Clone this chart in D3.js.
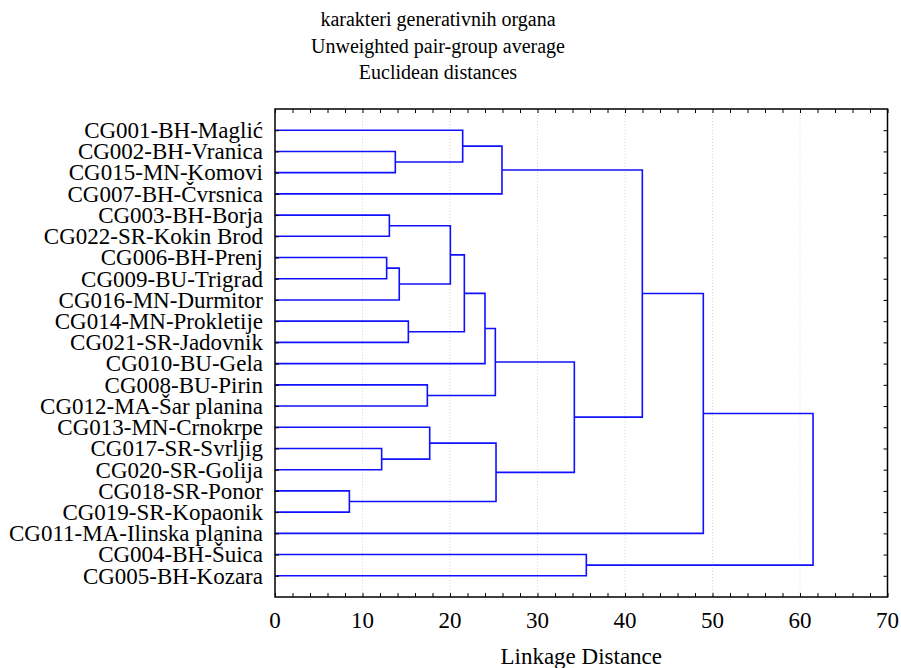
<!DOCTYPE html>
<html>
<head>
<meta charset="utf-8">
<script src="https://cdn.jsdelivr.net/npm/d3@7"></script>
<style>
  body { margin: 0; background: #fff; }
  text { font-family: "Liberation Serif", "Times New Roman", serif; fill: #000; }
</style>
</head>
<body>
<svg width="901" height="668"></svg>
<script>
// leaf labels, top to bottom
const leaves = [
  "CG001-BH-Maglić", "CG002-BH-Vranica", "CG015-MN-Komovi", "CG007-BH-Čvrsnica",
  "CG003-BH-Borja", "CG022-SR-Kokin Brod", "CG006-BH-Prenj", "CG009-BU-Trigrad",
  "CG016-MN-Durmitor", "CG014-MN-Prokletije", "CG021-SR-Jadovnik", "CG010-BU-Gela",
  "CG008-BU-Pirin", "CG012-MA-Šar planina", "CG013-MN-Crnokrpe", "CG017-SR-Svrljig",
  "CG020-SR-Golija", "CG018-SR-Ponor", "CG019-SR-Kopaonik", "CG011-MA-Ilinska planina",
  "CG004-BH-Šuica", "CG005-BH-Kozara"
];

// merges: [childA, childB, linkage distance]; ids 0..21 are leaves, 22.. are the merges in order
const merges = [
  [17, 18, 8.5],    // 22
  [15, 16, 12.19],  // 23
  [6, 7, 12.76],    // 24
  [4, 5, 13.07],    // 25
  [1, 2, 13.75],    // 26
  [24, 8, 14.2],    // 27
  [9, 10, 15.24],   // 28
  [12, 13, 17.41],  // 29
  [14, 23, 17.68],  // 30
  [25, 27, 20.04],  // 31
  [0, 26, 21.45],   // 32
  [31, 28, 21.64],  // 33
  [33, 11, 24.0],   // 34
  [34, 29, 25.18],  // 35
  [30, 22, 25.26],  // 36
  [32, 3, 25.94],   // 37
  [35, 36, 34.21],  // 38
  [20, 21, 35.58],  // 39
  [37, 38, 41.98],  // 40
  [40, 19, 48.95],  // 41
  [41, 39, 61.49]   // 42
];

const xTicks = [0, 10, 20, 30, 40, 50, 60, 70];
const titleLines = ["karakteri generativnih organa", "Unweighted pair-group average", "Euclidean distances"];
const xTitle = "Linkage Distance";

const pL = 275, pR = 887.5, pT = 109, pB = 597;

const svg = d3.select("svg");

let x = d3.scaleLinear().domain([0, 70]).range([pL, pR]);
let y = d3.scalePoint().domain(leaves).range([pT, pB]).padding(1);

// gridlines
svg.append("g").selectAll("line").data(xTicks.slice(1, -1)).enter()
  .append("line")
  .attr("x1", d => x(d)).attr("x2", d => x(d))
  .attr("y1", pT).attr("y2", pB)
  .attr("stroke", "#d8d8d8").attr("stroke-dasharray", "1,2").attr("stroke-width", 1);

// node positions
const pos = leaves.map(l => ({ x: x(0), y: y(l) }));
merges.forEach(function (m) {
  pos.push({ x: x(m[2]), y: (pos[m[0]].y + pos[m[1]].y) / 2 });
});

svg.append("g").selectAll("path").data(merges).enter()
  .append("path")
  .attr("d", function (m) {
    const a = pos[m[0]], b = pos[m[1]], hx = x(m[2]);
    return "M" + a.x + "," + a.y + "H" + hx + "V" + b.y + "H" + b.x;
  })
  .attr("fill", "none").attr("stroke", "#1010ff").attr("stroke-width", 1.6);

// axes with inward ticks
let minor = d3.range(0, 71, 2);
svg.append("g").attr("transform", "translate(0," + pB + ")")
  .call(d3.axisTop(x).tickValues(minor).tickSize(4).tickFormat(""))
  .call(g => g.select(".domain").remove());
svg.append("g").attr("transform", "translate(0," + pT + ")")
  .call(d3.axisBottom(x).tickValues(minor).tickSize(4).tickFormat(""))
  .call(g => g.select(".domain").remove());
svg.append("g").attr("transform", "translate(" + pL + ",0)")
  .call(d3.axisRight(y).tickSize(4).tickFormat(""))
  .call(g => g.select(".domain").remove());
svg.append("g").attr("transform", "translate(" + pR + ",0)")
  .call(d3.axisLeft(y).tickSize(4).tickFormat(""))
  .call(g => g.select(".domain").remove());

svg.append("rect")
  .attr("x", pL).attr("y", pT)
  .attr("width", pR - pL).attr("height", pB - pT)
  .attr("fill", "none").attr("stroke", "#000").attr("stroke-width", 1.5);

// leaf labels
svg.append("g").selectAll("text").data(leaves).enter()
  .append("text")
  .attr("x", pL - 12).attr("y", d => y(d)).attr("dy", "0.34em")
  .attr("text-anchor", "end").attr("font-size", 23)
  .text(d => d);

// x tick labels
svg.append("g").selectAll("text").data(xTicks).enter()
  .append("text")
  .attr("x", d => x(d)).attr("y", 628)
  .attr("text-anchor", "middle").attr("font-size", 23)
  .text(d => d);

svg.append("text").attr("x", (pL + pR) / 2).attr("y", 664)
  .attr("text-anchor", "middle").attr("font-size", 23).text(xTitle);

svg.append("g").selectAll("text").data(titleLines).enter()
  .append("text")
  .attr("x", 438).attr("y", (d, i) => 26 + i * 26.5)
  .attr("text-anchor", "middle").attr("font-size", 20)
  .text(d => d);
</script>
</body>
</html>
